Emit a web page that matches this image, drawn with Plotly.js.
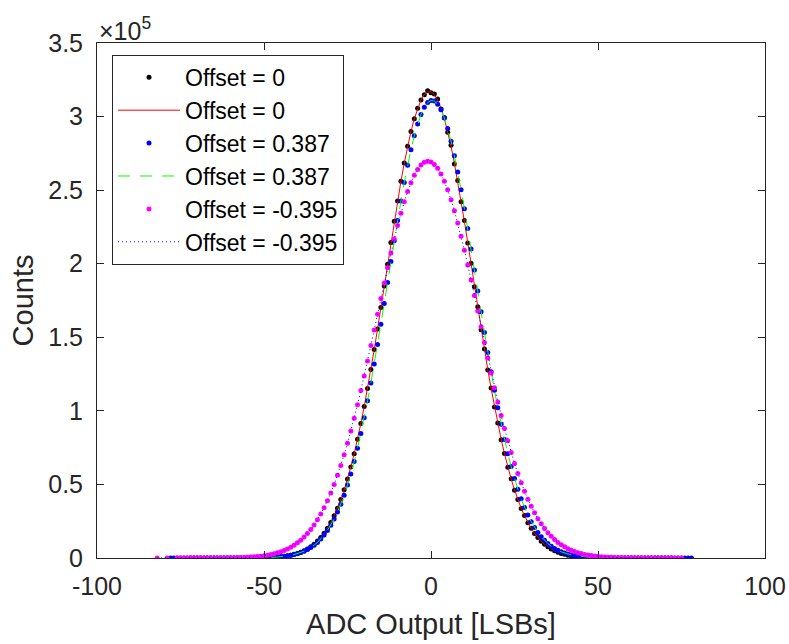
<!DOCTYPE html>
<html>
<head>
<meta charset="utf-8">
<script src="https://cdn.plot.ly/plotly-3.0.1.min.js"></script>
<style>html,body{margin:0;padding:0;background:#fff;}#chart{width:789px;height:644px;}</style>
</head>
<body>
<div id="chart"></div>
<script>
// ---- data (ADC output codes in LSBs, counts) ----
function codes(a, b) { var r = []; for (var i = a; i <= b; i++) r.push(i); return r; }

// Offset = 0 : measured histogram (black dots), codes -72..72
var blackX = codes(-72, 72);
var blackCounts = [
  1,1,1,1,1,1,2,2,3,4,5,7,9,13,18,25,35,48,66,90,123,167,225,300,400,530,690,900,1180,1500,
  1900,2500,3100,3900,4900,6200,7600,9400,11500,13900,16800,20200,24100,28700,33800,39700,46300,53700,61900,70900,
  80700,91400,102900,115200,128100,141700,155700,170200,184900,199700,214400,228800,242700,256000,268400,279800,289900,298600,305700,311200,
  314900,317600,
  316200,315400,311900,305200,299300,289400,280500,267800,256600,242100,229400,214000,200300,184400,170700,155200,142100,127700,115600,102600,
  91700,80400,71100,61700,53900,46100,39800,33700,28800,24000,20300,16700,13900,11400,9400,7600,6200,4900,3900,3100,
  2500,1900,1500,1180,900,690,530,400,300,225,167,123,90,66,48,35,25,18,13,9,7,5,4,3,2,2,1,1,1,1,1,1,1
];
// Offset = 0 : fitted curve (red solid)
var redX = codes(-72, 72);
var redFit = [
  1,1,1,1,1,1,2,2,3,4,5,7,9,13,18,25,35,48,66,90,123,167,225,300,400,530,690,900,1180,1500,
  1900,2500,3100,3900,4900,6200,7600,9400,11500,13900,16800,20200,24100,28700,33800,39700,46300,53700,61900,70900,
  80700,91400,102900,115200,128100,141700,155700,170200,184900,199700,214400,228800,242700,256000,268400,279800,289900,298600,305700,311200,
  314900,316800,
  316800,314900,311200,305700,298600,289900,279800,268400,256000,242700,228800,214400,199700,184900,170200,155700,141700,128100,115200,102900,
  91400,80700,70900,61900,53700,46300,39700,33800,28700,24100,20200,16800,13900,11500,9400,7600,6200,4900,3900,3100,
  2500,1900,1500,1180,900,690,530,400,300,225,167,123,90,66,48,35,25,18,13,9,7,5,4,3,2,2,1,1,1,1,1,1,1
];

// Offset = 0.387 : measured (blue dots), codes -78..78
var blueX = codes(-78, 78);
var blueCounts = [
  1,1,1,1,1,1,1,1,1,1,2,2,3,3,4,6,8,10,14,18,24,32,42,55,72,95,125,165,
  220,290,385,505,660,860,1110,1430,1830,2300,2900,3700,4600,5700,7100,8700,10600,12900,15600,18700,22300,26500,
  31200,36600,42700,49600,57100,65500,74600,84600,95300,106800,119000,131800,145100,158900,173000,187200,201500,215600,229400,242600,
  255200,266900,277500,286900,294900,301400,306300,309500,
  310900,310600,308400,304600,299000,291900,283300,273400,262300,250300,237400,223900,210000,195800,181500,167300,153300,139700,126600,114000,
  102100,90900,80500,70900,62100,54000,46700,40200,34400,29300,24700,20800,17400,14500,12000,9800,8000,6500,5300,4200,
  3400,2700,2100,1660,1300,1010,780,590,455,345,260,
  195,150,115,88,67,51,39,30,23,17,13,10,8,6,4,3,3,2,2,1,1,1,1,1,1,1,1,1
];
// Offset = 0.387 : fitted curve (green dashed), codes -61..73
var greenX = codes(-61, 73);
var greenFit = [
  10,14,18,24,32,42,55,72,95,125,165,
  220,290,385,505,660,860,1110,1430,1830,2300,2900,3700,4600,5700,7100,8700,10600,12900,15600,18700,22300,26500,
  31200,36600,42700,49600,57100,65500,74600,84600,95300,106800,119000,131800,145100,158900,173000,187200,201500,215600,229400,242600,
  255200,266900,277500,286900,294900,301400,306300,309500,
  310900,310600,308400,304600,299000,291900,283300,273400,262300,250300,237400,223900,210000,195800,181500,167300,153300,139700,126600,114000,
  102100,90900,80500,70900,62100,54000,46700,40200,34400,29300,24700,20800,17400,14500,12000,9800,8000,6500,5300,4200,
  3400,2700,2100,1660,1300,1010,780,590,455,345,260,
  195,150,115,88,67,51,39,30,23,17,13,10,8,6,4,3,3,2,2,1,1,1,1
];

// Offset = -0.395 : measured (magenta dots)
var magentaX = [-82, -79].concat(codes(-76, 75));
var magentaCounts = [
  1,1,
  2,3,4,5,6,8,10,14,18,24,32,42,55,72,93,120,155,199,255,324,412,520,655,817,1020,1270,1570,1930,
  2360,2900,3500,4200,5100,6100,7300,8700,10300,12100,14300,16700,19400,22500,26000,29900,34200,38900,44200,49900,
  56200,62900,70200,78000,86300,95000,104200,113800,123700,133900,144400,155000,165700,176300,186900,197200,207200,216800,225900,234300,
  242100,249000,255000,260100,264100,267100,268900,269600,
  269100,267500,264800,261000,256100,250300,243500,236000,227600,218700,209200,199200,189000,178400,167800,157100,146500,136000,125700,115700,
  106100,96800,88000,79600,71700,64300,57500,51100,45300,39900,35100,30700,26700,23200,20000,17200,14700,12500,10600,9000,
  7600,6300,5300,4400,3600,3000,2460,2010,1630,1320,1070,855,684,545,431,340,267,209,163,126,
  97,75,58,44,34,26,20,15,11,8,6,5,4,3,2,2
];
// Offset = -0.395 : fitted curve (blue dotted)
var dottedX = magentaX;
var dottedFit = magentaCounts;

var names = ['Offset = 0', 'Offset = 0', 'Offset = 0.387', 'Offset = 0.387', 'Offset = -0.395', 'Offset = -0.395'];
var xTickVals = [-100, -50, 0, 50, 100];
var xTickText = ['-100', '-50', '0', '50', '100'];
var yTickVals = [0, 50000, 100000, 150000, 200000, 250000, 300000, 350000];
var yTickText = ['0', '0.5', '1', '1.5', '2', '2.5', '3', '3.5'];

var FONT = 'Liberation Sans, Arial, Helvetica, sans-serif';
var AX = '#262626';

var traces = [
  {x: blackX, y: blackCounts, name: names[0], mode: 'markers', type: 'scatter',
   marker: {color: '#000000', size: 5}},
  {x: redX, y: redFit, name: names[1], mode: 'lines', type: 'scatter',
   line: {color: '#ff0000', width: 1}},
  {x: blueX, y: blueCounts, name: names[2], mode: 'markers', type: 'scatter',
   marker: {color: '#0000ff', size: 5}},
  {x: greenX, y: greenFit, name: names[3], mode: 'lines', type: 'scatter',
   line: {color: '#00ff00', width: 1, dash: '12px,10px'}},
  {x: magentaX, y: magentaCounts, name: names[4], mode: 'markers', type: 'scatter',
   marker: {color: '#ff00ff', size: 5}},
  {x: dottedX, y: dottedFit, name: names[5], mode: 'lines', type: 'scatter',
   line: {color: '#0000ff', width: 1, dash: '1px,3px'}}
];

var layout = {
  width: 789, height: 644,
  margin: {l: 97, r: 24, t: 43, b: 86},
  paper_bgcolor: '#ffffff', plot_bgcolor: '#ffffff',
  font: {family: FONT, size: 25, color: AX},
  showlegend: true,
  legend: {
    x: 0.0225, y: 0.977, xanchor: 'left', yanchor: 'top',
    bgcolor: '#ffffff', bordercolor: AX, borderwidth: 1,
    font: {family: FONT, size: 23, color: '#000000'},
    tracegroupgap: 0, itemwidth: 62
  },
  xaxis: {
    range: [-100, 100], tickvals: xTickVals, ticktext: xTickText,
    showgrid: false, zeroline: false, showline: true, linecolor: AX, linewidth: 1,
    mirror: 'ticks', ticks: 'inside', ticklen: 7, tickcolor: AX,
    ticklabelstandoff: 6,
    tickfont: {family: FONT, size: 25, color: AX},
    title: {text: 'ADC Output [LSBs]', font: {family: FONT, size: 29, color: AX}, standoff: 14}
  },
  yaxis: {
    range: [0, 350000], tickvals: yTickVals, ticktext: yTickText,
    showgrid: false, zeroline: false, showline: true, linecolor: AX, linewidth: 1,
    mirror: 'ticks', ticks: 'inside', ticklen: 7, tickcolor: AX,
    ticklabelstandoff: 8,
    tickfont: {family: FONT, size: 25, color: AX},
    title: {text: 'Counts', font: {family: FONT, size: 29, color: AX}, standoff: 6}
  },
  annotations: [{
    xref: 'paper', yref: 'paper', x: 0, y: 1, xanchor: 'left', yanchor: 'bottom',
    showarrow: false, text: '×10<sup>5</sup>', yshift: -4, xshift: 0,
    font: {family: FONT, size: 25, color: AX}
  }]
};

Plotly.newPlot('chart', traces, layout, {staticPlot: true, displayModeBar: false});
</script>
</body>
</html>
